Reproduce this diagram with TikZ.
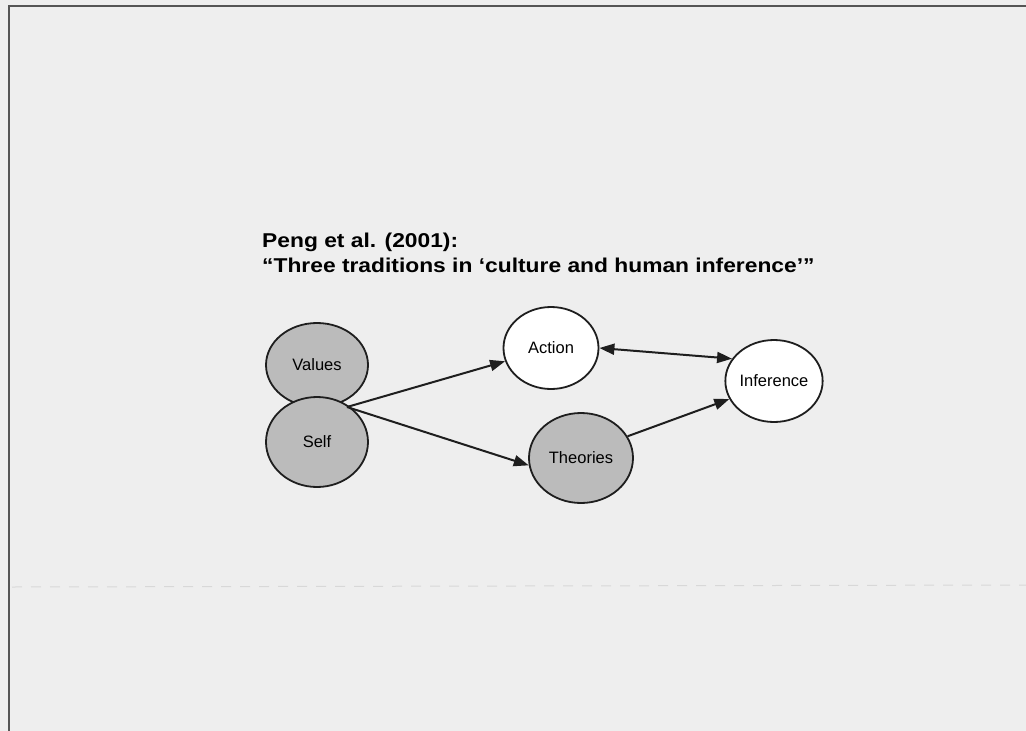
\documentclass[tikz,border=0pt]{standalone}
\usepackage{fontspec}
\setmainfont{Liberation Sans}
\usepackage{tikz}
\usetikzlibrary{positioning,shapes.geometric,arrows.meta}
\definecolor{PaperGray}{HTML}{EEEEEE}
\definecolor{FrameGray}{HTML}{555555}
\definecolor{FillGray}{HTML}{BBBBBB}
\definecolor{InkDark}{HTML}{1E1E1E}
\definecolor{ScanLine}{HTML}{D8D8D8}

\begin{document}
\begin{tikzpicture}[x=1pt,y=-1pt,>={Triangle[length=15pt,width=11pt]}]
  \tikzstyle{greyell}=[ellipse,draw=InkDark,fill=FillGray,line width=1.8pt,
    inner sep=0pt,font=\fontsize{16.5}{19}\selectfont]
  \tikzstyle{whiteell}=[ellipse,draw=InkDark,fill=white,line width=1.8pt,
    inner sep=0pt,font=\fontsize{16.5}{19}\selectfont]
  \tikzstyle{titletext}=[anchor=base west,inner sep=0pt,
    font=\bfseries\fontsize{20}{24}\selectfont]
  % page and frame
  \fill[PaperGray] (0,0) rectangle (1026,731);
  \useasboundingbox (0,0) rectangle (1026,731);
  \draw[FrameGray,line width=1.6pt] (9,731) -- (9,6) -- (1026,6);
  \draw[ScanLine,line width=1pt,dash pattern=on 10pt off 9pt] (12,587) -- (1026,585);
  % title
  \node[titletext] (title1) at (262,247) {\scalebox{1.14}[1]{Peng et al. (2001):}};
  \node[titletext] (title2) at (262,272) {\scalebox{1.14}[1]{“Three traditions in ‘culture and human inference’”}};
  % circles
  \node[greyell,minimum width=102pt,minimum height=84pt] (values) at (317,365) {Values};
  \node[greyell,minimum width=102pt,minimum height=90pt] (self) at (317,442) {\raisebox{-3pt}{Self}};
  \node[whiteell,minimum width=95pt,minimum height=82pt] (action) at (551,348) {Action};
  \node[greyell,minimum width=104pt,minimum height=90pt] (theories) at (581,458) {\raisebox{-3pt}{Theories}};
  \node[whiteell,minimum width=96pt,minimum height=82pt] (inference) at (774,381) {Inference};
  \coordinate (src) at (347,407);
  % arrows
  \draw[->,line width=2pt,InkDark] (src) -- (action);
  \draw[->,line width=2pt,InkDark] (src) -- (theories.188);
  \draw[<->,line width=2pt,InkDark] (action.east) -- (inference.152);
  \draw[->,line width=2pt,InkDark] (theories.25) -- (inference.202);
\end{tikzpicture}
\end{document}
